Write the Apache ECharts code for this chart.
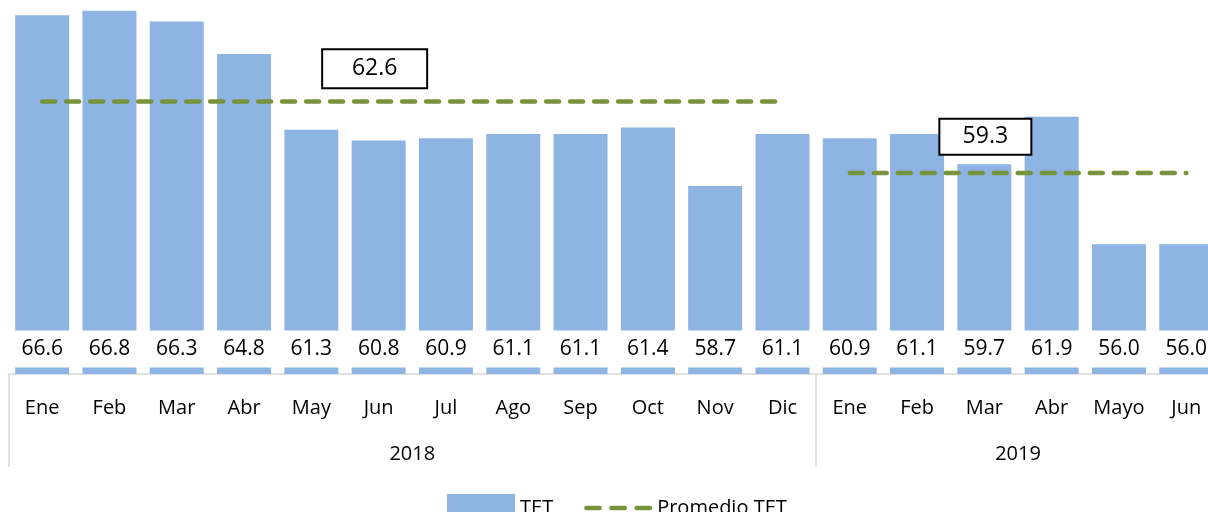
<!DOCTYPE html>
<html>
<head>
<meta charset="utf-8">
<script src="https://cdn.jsdelivr.net/npm/echarts@6/dist/echarts.min.js"></script>
<style>
  html, body { margin: 0; padding: 0; background: #fff; }
  #chart { width: 1208px; height: 512px; }
</style>
</head>
<body>
<div id="chart"></div>
<script>
// Monthly TET values, 2018 through June 2019
const months = ['Ene', 'Feb', 'Mar', 'Abr', 'May', 'Jun', 'Jul', 'Ago', 'Sep', 'Oct', 'Nov', 'Dic',
                'Ene', 'Feb', 'Mar', 'Abr', 'Mayo', 'Jun'];
const tet = [66.6, 66.8, 66.3, 64.8, 61.3, 60.8, 60.9, 61.1, 61.1, 61.4, 58.7, 61.1,
             60.9, 61.1, 59.7, 61.9, 56.0, 56.0];
const years = ['2018', '2019'];
const monthsPerYear = [12, 6];
const promedio = [62.6, 59.3];
// month index within each year where the average's boxed label sits
const promedioLabelAt = [5, 14];

const FONT = "'Open Sans', 'Noto Sans', sans-serif";
const BLUE = '#8EB4E3';
const GREEN = '#77933C';

// legend glyph for the dashed average: three rounded dashes
const DASH_ICON = 'path://' +
  'M2.25,0H15.75A2.25,2.25,0,0,1,15.75,4.5H2.25A2.25,2.25,0,0,1,2.25,0Z' +
  'M27.75,0H41.25A2.25,2.25,0,0,1,41.25,4.5H27.75A2.25,2.25,0,0,1,27.75,0Z' +
  'M53.25,0H66.75A2.25,2.25,0,0,1,66.75,4.5H53.25A2.25,2.25,0,0,1,53.25,0Z';

// year group start offsets and centres on the 0..N value scale
const yearStarts = [];
let acc = 0;
monthsPerYear.forEach(n => { yearStarts.push(acc); acc += n; });
const yearCenters = monthsPerYear.map((n, i) => yearStarts[i] + n / 2);

const boxStyles = [
  { width: 103, height: 37, distance: 14, offset: [-4, 0] },
  { width: 90, height: 34, distance: 19, offset: [1, 0] }
];

function averageSeries(k) {
  const start = yearStarts[k], end = start + monthsPerYear[k];
  const data = months.map((m, i) => {
    if (i < start || i >= end) return null;
    if (i === promedioLabelAt[k]) {
      const b = boxStyles[k];
      return {
        value: promedio[k],
        label: {
          show: true,
          position: 'top',
          distance: b.distance,
          offset: b.offset,
          formatter: p => Number(p.value).toFixed(1),
          backgroundColor: '#fff',
          borderColor: '#000',
          borderWidth: 2,
          width: b.width,
          height: b.height,
          lineHeight: b.height,
          align: 'center',
          padding: 0,
          fontSize: 23,
          fontFamily: FONT,
          color: '#000',
          opacity: 1
        }
      };
    }
    return promedio[k];
  });
  return {
    name: 'Promedio TET',
    type: 'line',
    xAxisIndex: 0,
    data: data,
    symbol: 'circle',
    symbolSize: 0.5,
    showSymbol: true,
    connectNulls: false,
    z: 5,
    label: { show: false },
    lineStyle: { color: GREEN, width: 4.5, type: [13, 11], cap: 'round' },
    itemStyle: { color: GREEN, opacity: 0 }
  };
}

const chart = echarts.init(document.getElementById('chart'), null, { renderer: 'canvas' });
chart.setOption({
  animation: false,
  textStyle: { fontFamily: FONT },
  grid: { left: 8.5, top: 0, width: 1211.4, height: 374, outerBoundsMode: 'none', containLabel: false },
  legend: {
    data: [
      { name: 'TET', icon: 'rect' },
      {
        name: 'Promedio TET',
        icon: DASH_ICON,
        itemStyle: { color: GREEN, opacity: 1, borderWidth: 0 },
        lineStyle: { width: 0, opacity: 0 }
      }
    ],
    left: 442,
    top: 489,
    itemWidth: 68,
    itemHeight: 28,
    itemGap: 31,
    textStyle: { fontSize: 20, color: '#000', fontFamily: FONT }
  },
  xAxis: [
    {
      type: 'category',
      data: months,
      boundaryGap: true,
      axisLine: { show: true, lineStyle: { color: '#D9D9D9', width: 1.5 } },
      axisTick: {
        show: true,
        length: 93,
        interval: (i) => yearStarts.indexOf(i) !== -1,
        lineStyle: { color: '#D9D9D9', width: 1.5 }
      },
      axisLabel: { interval: 0, fontSize: 20, margin: 24, color: '#000', fontFamily: FONT }
    },
    {
      type: 'value',
      min: 0,
      max: months.length,
      position: 'bottom',
      axisLine: { show: false },
      axisTick: { show: false },
      splitLine: { show: false },
      axisLabel: {
        customValues: yearCenters,
        formatter: v => {
          const i = yearCenters.indexOf(v);
          return i === -1 ? '' : years[i];
        },
        fontSize: 20,
        margin: 70,
        color: '#000',
        fontFamily: FONT
      }
    }
  ],
  yAxis: {
    type: 'value',
    min: 50,
    max: 67.3,
    show: false,
    splitLine: { show: false }
  },
  series: [
    {
      name: 'TET',
      type: 'bar',
      xAxisIndex: 0,
      data: tet,
      barWidth: 54,
      itemStyle: { color: BLUE },
      label: {
        show: true,
        position: 'insideBottom',
        distance: 6.5,
        formatter: p => Number(p.value).toFixed(1),
        backgroundColor: '#fff',
        width: 60,
        height: 37,
        lineHeight: 37,
        align: 'center',
        padding: 0,
        fontSize: 21,
        fontFamily: FONT,
        color: '#000'
      }
    },
    averageSeries(0),
    averageSeries(1)
  ]
});
</script>
</body>
</html>
